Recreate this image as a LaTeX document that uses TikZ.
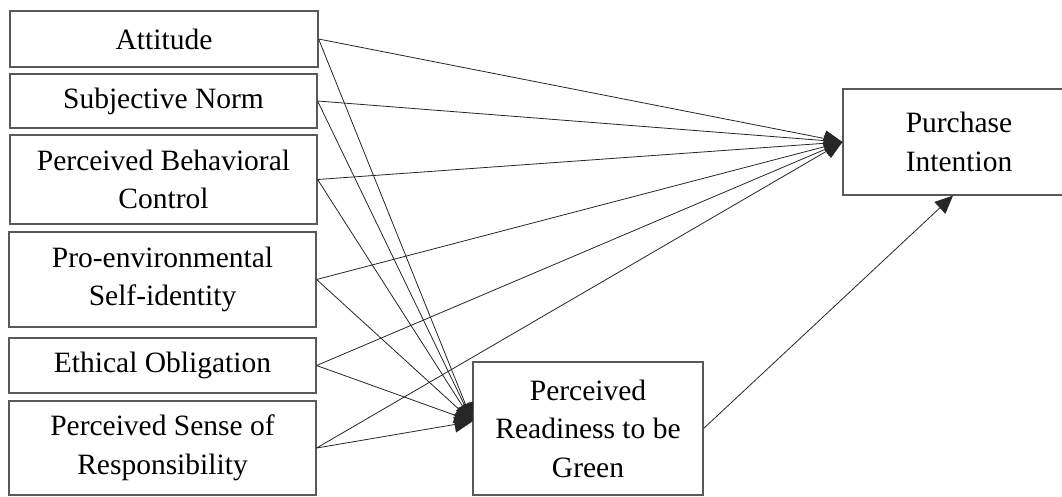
\documentclass[tikz,border=0pt]{standalone}
\usepackage{fontspec}
\setmainfont{Liberation Serif}
\usetikzlibrary{arrows.meta}
\begin{document}
\begin{tikzpicture}[x=1pt,y=-1pt,
  box/.style={draw=black!65,line width=1.2pt,align=center,inner sep=0pt,
    font=\fontsize{29.5}{38.5}\selectfont},
  link/.style={draw=black!85,line width=0.8pt,
    -{Triangle[length=18pt,width=16pt]}}]
\useasboundingbox (0,0) rectangle (1062,496);
\clip (0,0) rectangle (1062,496);

% predictors
\node[box,minimum width=308pt,minimum height=56pt] (att) at (164,39) {Attitude};
\node[box,minimum width=307pt,minimum height=54pt] (sn) at (163.5,101) {Subjective Norm};
\node[box,minimum width=307pt,minimum height=89pt] (pbc) at (163.5,179.5) {Perceived Behavioral\\Control};
\node[box,minimum width=307pt,minimum height=95pt] (pes) at (162.5,279.5) {Pro-environmental\\Self-identity};
\node[box,minimum width=307pt,minimum height=55pt] (eo) at (162.5,365.5) {Ethical Obligation};
\node[box,minimum width=307pt,minimum height=94pt] (psr) at (162.5,448) {Perceived Sense of\\Responsibility};

% outcomes
\node[box,minimum width=232pt,minimum height=106pt] (pi) at (959,142) {Purchase\\Intention};
\node[box,minimum width=230pt,minimum height=133pt] (prg) at (588,428.5) {Perceived\\Readiness to be\\Green};

\coordinate (piin) at (pi.west);
\coordinate (prgin) at ([yshift=7pt]prg.west);
\coordinate (pibot) at ([xshift=-6pt]pi.south);

\foreach \s in {att,sn,pbc,pes,eo,psr}{
  \draw[link] (\s.east) -- (piin);
  \draw[link] (\s.east) -- (prgin);
}
\draw[link] (prg.east) -- (pibot);
\end{tikzpicture}
\end{document}
